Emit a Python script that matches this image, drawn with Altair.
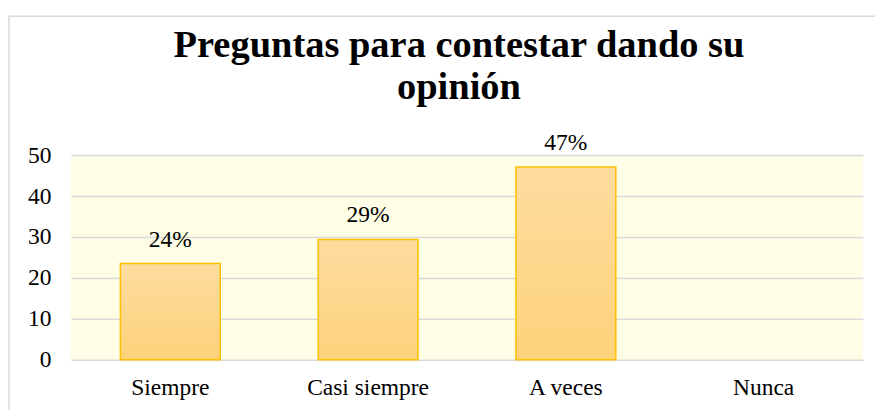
import altair as alt
import pandas as pd

categories = ["Siempre", "Casi siempre", "A veces", "Nunca"]
values = [23.5, 29.4, 47.1, 0]
labels = ["24%", "29%", "47%", ""]

df = pd.DataFrame({"cat": categories, "val": values, "lab": labels})

FONT = "'Times New Roman', 'Liberation Serif', 'DejaVu Serif', serif"
FS = 23.5

grad = alt.Gradient(
    gradient="linear",
    stops=[alt.GradientStop(color="#FDDC9F", offset=0),
           alt.GradientStop(color="#FDD27A", offset=1)],
    x1=0, x2=0, y1=0, y2=1,
)

x = alt.X("cat:N", sort=categories, title=None,
          scale=alt.Scale(paddingInner=0.495, paddingOuter=0.25),
          axis=alt.Axis(labelAngle=0, labelFont=FONT, labelFontSize=FS,
                        labelColor="#000000", labelPadding=16, ticks=False,
                        domain=False))
y = alt.Y("val:Q", title=None,
          scale=alt.Scale(domain=[0, 50]),
          axis=alt.Axis(values=[0, 10, 20, 30, 40, 50], labelFont=FONT,
                        labelFontSize=FS, labelColor="#000000", labelPadding=20,
                        ticks=False, domain=False, gridColor="#D9D9D9",
                        gridWidth=1.5))

bars = alt.Chart(df).mark_bar(color=grad, strokeWidth=1.5).encode(
    x=x, y=y,
    stroke=alt.condition("datum.val > 0", alt.value("#FFC000"), alt.value("transparent")),
)

text = alt.Chart(df).mark_text(font=FONT, fontSize=FS, color="#000000",
                               baseline="alphabetic", dy=-17).encode(
    x=alt.X("cat:N", sort=categories),
    y="val:Q",
    text="lab:N",
)

border = alt.Chart(alt.Data(values=[{}])).mark_rect(
    fill=None, stroke="#D9D9D9", strokeWidth=1.5, clip=False
).encode(
    x=alt.value(-62), x2=alt.value(2000), y=alt.value(-139), y2=alt.value(600)
)

chart = alt.layer(border, bars, text).properties(
    width=793, height=205,
    title=alt.TitleParams(
        text=["Preguntas para contestar dando su", "opinión"],
        font=FONT, fontSize=38.5, fontWeight="bold", color="#000000",
        anchor="middle", lineHeight=42, offset=-130, baseline="bottom", dx=-8,
    ),
    padding={"left": 63, "top": 147, "right": 12, "bottom": 50},
    autosize=alt.AutoSizeParams(type="none"),
    background="white",
).configure_view(fill="#FEFEE6", strokeWidth=0)

chart.save("out.html", embed_options={"renderer": "svg", "actions": False})
